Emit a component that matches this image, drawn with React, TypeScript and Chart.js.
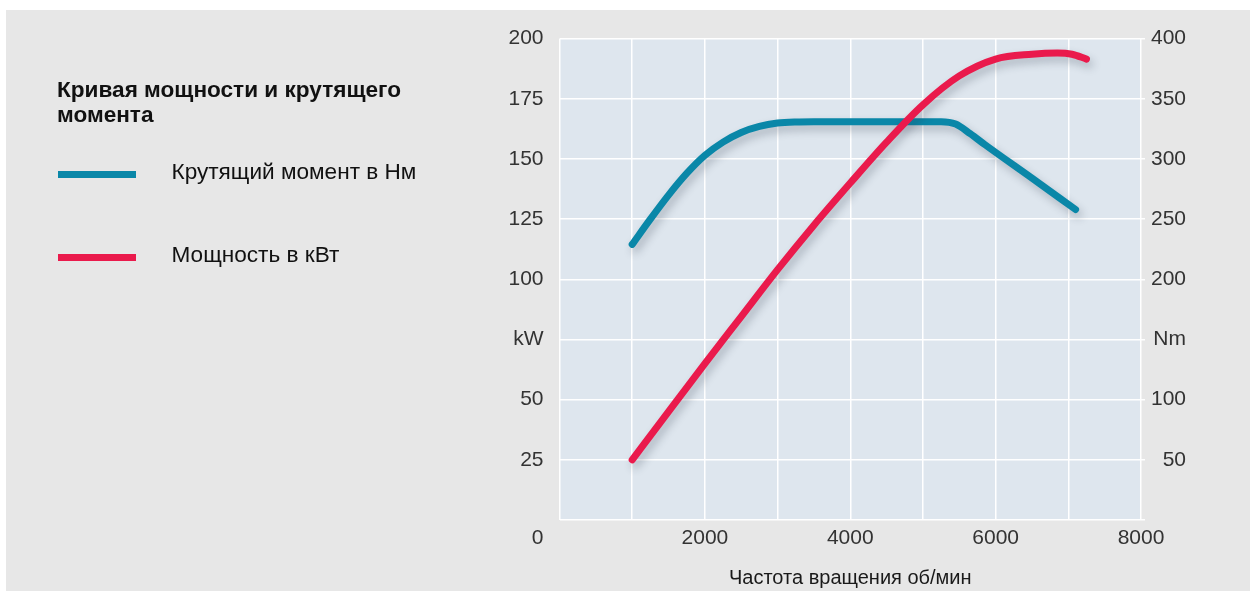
import { useEffect, useRef } from 'react';
import { Chart, registerables } from 'chart.js';

Chart.register(...registerables);

// ---------- data ----------
const chartTitleLines = ['Кривая мощности и крутящего', 'момента'];
const xAxisTitle = 'Частота вращения об/мин';

const torqueLabel = 'Крутящий момент в Нм';
const powerLabel = 'Мощность в кВт';

const rpmPower = [1000, 1500, 2000, 2500, 3000, 3500, 4000, 4500, 5000, 5500, 6000, 6500, 6850, 7050, 7250];
const powerKw = [25, 45, 65, 84.5, 104, 122.5, 140, 157, 172.5, 184.5, 191.5, 193.5, 194, 193.5, 191.5];

const rpmTorque = [1000, 1250, 1500, 1750, 2000, 2250, 2500, 2750, 3000, 3250, 3500, 4500, 5250, 5450, 5650, 5850, 6500, 7100];
const torqueNm = [229, 250, 270, 288, 303, 314, 322, 327, 329.8, 330.8, 331, 331, 331, 329, 321, 312, 284, 258];

const xTickValues = [0, 1000, 2000, 3000, 4000, 5000, 6000, 7000, 8000];
const xTickText = ['', '', '2000', '', '4000', '', '6000', '', '8000'];
const kwTickValues = [0, 25, 50, 75, 100, 125, 150, 175, 200];
const kwTickText = ['', '25', '50', 'kW', '100', '125', '150', '175', '200'];
const nmTickValues = [0, 50, 100, 150, 200, 250, 300, 350, 400];
const nmTickText = ['', '50', '100', 'Nm', '200', '250', '300', '350', '400'];
const zeroLabel = '0';

// ---------- styles ----------
const FONT = '"Liberation Sans", Arial, Helvetica, sans-serif';
const PAGE_BG = '#e7e7e7';
const PLOT_BG = '#dee6ee';
const TEAL = '#0a87a8';
const RED = '#ea1a4c';
const TICK_COLOR = '#333333';

const lookup = (vals: number[], texts: string[]) => (v: any) => {
  const i = vals.indexOf(Number(v));
  return i >= 0 ? texts[i] : '';
};

const bgPlugin = {
  id: 'plotBg',
  beforeDraw(chart: any) {
    const { ctx, chartArea } = chart;
    ctx.save();
    ctx.fillStyle = PLOT_BG;
    ctx.fillRect(chartArea.left, chartArea.top, chartArea.right - chartArea.left, chartArea.bottom - chartArea.top);
    ctx.restore();
  },
};

const shadowPlugin = {
  id: 'lineShadow',
  beforeDatasetDraw(chart: any) {
    const ctx = chart.ctx;
    ctx.save();
    ctx.shadowColor = 'rgba(40,50,70,0.28)';
    ctx.shadowBlur = 8;
    ctx.shadowOffsetX = 3;
    ctx.shadowOffsetY = 5;
  },
  afterDatasetDraw(chart: any) {
    chart.ctx.restore();
  },
};

const zeroPlugin = {
  id: 'zeroLabel',
  afterDraw(chart: any) {
    const { ctx } = chart;
    const ys = chart.scales.y;
    const xs = chart.scales.x;
    const tl = ys.options.ticks.padding;
    const xPad = xs.options.ticks.padding;
    const fs = 21;
    ctx.save();
    ctx.font = `${fs}px ${FONT}`;
    ctx.fillStyle = TICK_COLOR;
    ctx.textAlign = 'right';
    ctx.textBaseline = 'middle';
    ctx.fillText(zeroLabel, ys.right - tl, xs.top + xPad + fs * 0.6);
    ctx.restore();
  },
};

export default function App() {
  const ref = useRef<HTMLCanvasElement>(null);

  useEffect(() => {
    const canvas = ref.current!;
    Chart.defaults.font.family = FONT;
    const chart = new Chart(canvas, {
      type: 'line',
      data: {
        datasets: [
          {
            label: powerLabel,
            data: rpmPower.map((x, i) => ({ x, y: powerKw[i] })),
            yAxisID: 'y',
            borderColor: RED,
            borderWidth: 7,
            pointRadius: 0,
            cubicInterpolationMode: 'monotone',
            borderCapStyle: 'round',
            borderJoinStyle: 'round',
            fill: false,
          },
          {
            label: torqueLabel,
            data: rpmTorque.map((x, i) => ({ x, y: torqueNm[i] })),
            yAxisID: 'y1',
            borderColor: TEAL,
            borderWidth: 7,
            pointRadius: 0,
            cubicInterpolationMode: 'monotone',
            borderCapStyle: 'round',
            borderJoinStyle: 'round',
            fill: false,
          },
        ],
      },
      options: {
        responsive: false,
        animation: false,
        layout: { padding: { top: 26, left: 0, right: 64, bottom: 0 } },
        plugins: { legend: { display: false }, tooltip: { enabled: false } },
        scales: {
          x: {
            type: 'linear',
            min: 0,
            max: 8000,
            afterBuildTicks: (s: any) => {
              s.ticks = xTickValues.map((v) => ({ value: v }));
            },
            ticks: {
              autoSkip: false,
              maxRotation: 0,
              padding: 6,
              color: TICK_COLOR,
              font: { size: 21 },
              callback: lookup(xTickValues, xTickText),
            },
            grid: { color: '#ffffff', lineWidth: 1.5, drawTicks: false },
            border: { display: false },
            title: {
              display: true,
              text: xAxisTitle,
              color: '#1a1a1a',
              font: { size: 20 },
              padding: { top: 0, bottom: 1 },
            },
            afterFit: (s: any) => {
              s.height = 71;
            },
          },
          y: {
            position: 'left',
            min: 0,
            max: 200,
            afterBuildTicks: (s: any) => {
              s.ticks = kwTickValues.map((v) => ({ value: v }));
            },
            ticks: {
              autoSkip: false,
              padding: 16,
              color: TICK_COLOR,
              font: { size: 21 },
              callback: lookup(kwTickValues, kwTickText),
            },
            grid: { color: '#ffffff', lineWidth: 1.5, drawTicks: false },
            border: { display: false },
            afterFit: (s: any) => {
              s.width = 553.5;
            },
          },
          y1: {
            position: 'right',
            min: 0,
            max: 400,
            afterBuildTicks: (s: any) => {
              s.ticks = nmTickValues.map((v) => ({ value: v }));
            },
            ticks: {
              autoSkip: false,
              padding: 6,
              crossAlign: 'far',
              color: TICK_COLOR,
              font: { size: 21 },
              callback: lookup(nmTickValues, nmTickText),
            },
            grid: { color: '#ffffff', lineWidth: 1.5, drawOnChartArea: false, tickLength: 4 },
            border: { display: false },
            afterFit: (s: any) => {
              s.width = 45;
            },
          },
        },
      } as any,
      plugins: [bgPlugin, shadowPlugin, zeroPlugin],
    });
    return () => chart.destroy();
  }, []);

  const legendItems = [
    { label: torqueLabel, color: TEAL, lineTop: 161, textTop: 150.5 },
    { label: powerLabel, color: RED, lineTop: 243.5, textTop: 234 },
  ];

  return (
    <div
      style={{
        position: 'absolute',
        left: 6,
        top: 10,
        width: 1244,
        height: 581,
        background: PAGE_BG,
        fontFamily: FONT,
        overflow: 'hidden',
      }}
    >
      <canvas ref={ref} width={1244} height={581} style={{ position: 'absolute', left: 0, top: 0, width: 1244, height: 581 }} />
      <div
        style={{
          position: 'absolute',
          left: 51,
          top: 66.5,
          fontSize: 22.6,
          lineHeight: '25.4px',
          fontWeight: 'bold',
          color: '#111',
          whiteSpace: 'nowrap',
        }}
      >
        {chartTitleLines.map((l, i) => (
          <div key={i}>{l}</div>
        ))}
      </div>
      {legendItems.map((it, i) => (
        <div key={i}>
          <div
            style={{
              position: 'absolute',
              left: 52,
              top: it.lineTop,
              width: 78,
              height: 7,
              background: it.color,
            }}
          />
          <div
            style={{
              position: 'absolute',
              left: 165.5,
              top: it.textTop,
              fontSize: 22.6,
              lineHeight: '22px',
              color: '#111',
              whiteSpace: 'nowrap',
            }}
          >
            {it.label}
          </div>
        </div>
      ))}
    </div>
  );
}
